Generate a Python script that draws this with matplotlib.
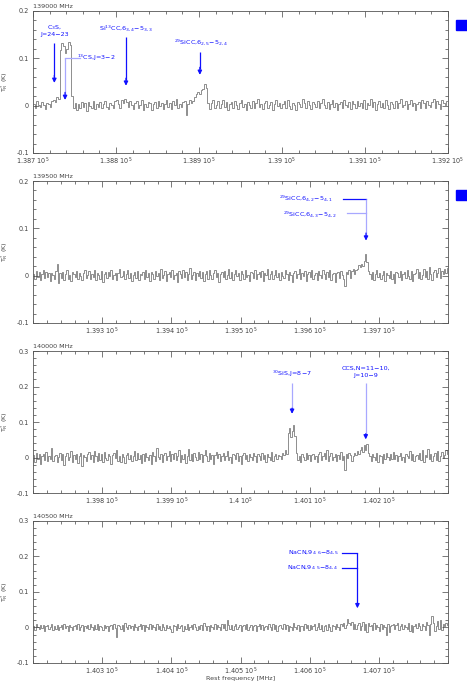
import numpy as np
import matplotlib
matplotlib.use('Agg')
import matplotlib.pyplot as plt
from matplotlib.patches import Rectangle

#########################################################
# Data (antenna temperature in mK, 2 MHz channels)

CHANNEL_WIDTH = 2.0

start_1 = 138700
spec_1 = [4, -6, 9, 1, -3, 7, 2, -8, 6, 3, -2, 10, 12, 8, 18, 14, 118, 132, 126, 112,
          120, 134, 128, 20, -4, 6, -9, 3, -6, 8, -2, 5, -11, 7, 0, -5, 9, -7, 4, -3,
          8, -6, 3, 10, -2, -8, 5, 1, -4, 9, 11, 3, -6, 12, 5, 14, 8, -3, 10, 2,
          -7, 6, 9, -4, 2, 11, -9, 4, -2, 8, 6, -10, 3, 7, -5, 10, -1, 5, -8, 3,
          12, -3, 6, -7, 9, 1, 13, -5, 4, -2, 8, 10, -20, 3, 12, 6, 9, 18, 25, 28,
          24, 32, 36, 45, 38, 5, -8, 6, 11, -4, 2, 9, -6, 4, 12, -2, 7, -9, 3, 8,
          -5, 10, 1, -7, 6, 11, -3, 4, -10, 7, 2, -4, 9, -6, 5, 13, -2, 3, -8, 6,
          10, -5, 2, 8, -9, 4, 12, -1, 6, -6, 3, 9, -4, 11, 0, -7, 5, 2, -10, 8,
          4, -3, 13, 6, -5, 9, 1, -8, 7, 3, -2, 10, -6, 5, 14, 2, -4, 8, -7, 3,
          11, -2, 6, -9, 4, 8, -5, 12, 1, -3, 7, -8, 10, 3, -6, 9, 0, 5, -4, 11,
          -7, 6, 2, 13, -3, 8, -10, 4, 9, -2, 5, -6, 12, 1, -8, 7, 3, -4, 10, -5,
          6, 14, -3, 2, 9, -7, 4, 11, -1, 6, -9, 3, 8, -4, 12, 5, -6, 9, 2, -3,
          7, 15, -5, 10, 3, -8, 12, 6, 1, 9]

start_2 = 139200
spec_2 = [3, -6, 10, -2, 7, -9, 4, 12, -5, 8, -3, 6, -11, 5, 1, -7, 9, 24, -16, 6,
          -4, 8, -9, 3, 11, -6, 2, -12, 7, 4, -3, 10, -8, 5, 0, -10, 6, 13, -5, 2,
          9, -7, 4, -2, 12, -9, 5, 1, -6, 10, -13, 3, 7, -4, 8, -1, 11, -8, 2, 6,
          -10, 5, 14, -3, 0, 9, -7, 3, 12, -5, 6, -11, 2, 8, -4, 10, -9, 4, 1, 7,
          -6, 13, -2, 5, -12, 8, 3, -7, 10, -1, 6, -9, 15, -4, 2, 9, -11, 4, 7, -3,
          11, -8, 1, 6, -13, 9, 4, -5, 12, -2, 7, -10, 3, 16, -6, 2, 8, -9, 5, 0,
          10, -4, 7, -12, 3, 9, -6, 13, 1, -8, 5, 11, -3, 6, -14, 4, 8, -2, 10, -7,
          2, 14, -5, 7, -10, 3, 12, -1, 6, -9, 9, 4, -6, 11, -3, 1, -12, 8, 5, -4,
          13, -7, 3, 8, -2, 10, -11, 5, 1, 15, -6, 4, 9, -8, 2, 12, -3, 6, -10, 7,
          0, -5, 11, 4, -9, 8, 2, -13, 6, 10, -4, 3, 14, -7, 5, -1, 9, -12, 4, 7,
          -3, 12, -8, 2, 6, -10, 9, 1, -5, 13, 3, -7, 8, -2, 11, -9, 4, 6, -14, 5,
          8, -4, 10, 2, -6, -22, 7, 3, 12, -5, 9, 15, 4, 11, 15, 22, 18, 25, 20, 30,
          46, 28, 10, 3, -6, 8, -10, 4, 11, -3, 6, -8, 2, 9, -12, 5, 1, -4, 10, -7,
          3, -16, 8, 5, -2, 10, -9, 4, 7, -5, 12, 0, -6, 9, -11, 3, 6, 14, -4, 8,
          -8, 2, 15, -3, 9, -6, 18, 4, -10, 7, 12, -2, 5, 16, -5, 9, 3, 14, 6, 17]

start_3 = 139700
spec_3 = [6, -12, 14, -4, 9, -17, 3, 11, -7, 16, -10, 5, -3, 28, -9, 4, 8, -14, 2, 12,
          -6, 9, -22, 5, 13, -8, 1, 17, -12, 6, -3, 10, -16, 4, 14, -25, 7, 2, -9, 11,
          15, -4, 8, -13, 19, 3, -10, 12, -6, 9, -14, 16, 0, -7, 11, 4, -18, 7, 13, -2,
          21, -9, 5, -12, 10, 2, -15, 8, 14, -5, 7, -10, 3, 18, -8, 12, -3, 6, -16, 9,
          -11, 13, 1, -6, 8, -17, 15, 4, -9, 27, 2, -5, 10, -13, 6, 12, -7, 3, 17, -10,
          9, -4, 14, -8, 5, 20, -12, 7, -3, 11, -15, 4, 24, -6, 9, -10, 13, 2, -8, 16,
          -5, 10, -14, 7, 21, 3, -9, 12, -4, 8, -18, 6, 15, -2, 9, -11, 4, 13, -7, 5,
          17, -6, 2, -15, 11, 7, -4, 12, -9, 3, -19, 8, 14, -3, 6, -10, 10, 1, -6, 13,
          5, -12, 9, 4, -8, 14, -3, 7, -14, 11, 2, -6, 16, -9, 5, 10, -4, 8, 3, -5,
          12, 6, 22, 10, 70, 82, 58, 75, 93, 60, 12, -8, 4, -12, 9, 2, -6, 14, -3, 8,
          -10, 6, 11, -5, 3, -14, 9, 16, -7, 4, 12, -3, 20, -9, 5, 13, -6, 2, 10, -11,
          7, -4, 15, -8, 3, -35, 9, -2, 12, 6, -10, 4, 14, 8, 19, 11, 20, 30, 15, 36,
          22, 38, 12, 4, -9, 11, 2, -6, 14, -12, 7, 3, -15, 9, -4, 13, 1, -8, 10, -5,
          16, -3, 8, -11, 5, 12, -7, 2, -13, 9, 4, -2, 18, -6, 11, -9, 3, 7, -4, 14,
          -8, 22, -12, 6, 2, 25, -3, 10, -11, 5, 13, -6, 19, -9, 4, 16, -2, 8, 21, 10]

start_4 = 140200
spec_4 = [5, -7, 9, 1, -4, 8, -2, 6, -9, 3, 7, -5, 2, 10, -6, 4, -3, 8, -8, 1,
          6, -4, 9, -2, 3, -10, 7, 0, -6, 5, 8, -3, 10, -7, 2, 6, -9, 4, -1, 7,
          -5, 9, 2, -8, 6, -3, 11, -6, 4, 1, -7, 8, -2, 5, -10, 3, 7, -4, 9, -1,
          -26, 6, 3, -5, 8, -9, 12, 1, -4, 7, -2, 5, -8, 9, 0, -6, 4, 10, -3, 6,
          -9, 8, 2, -5, 11, -4, 6, 1, -7, 9, -3, 4, -6, 10, 2, -8, 7, -1, 5, -4,
          -12, 6, 3, -7, 9, -2, 5, 8, -9, 4, -3, 10, -6, 2, 7, -5, 9, 0, -8, 5,
          -4, 8, -7, 12, 3, -6, 5, -9, 7, 1, -3, 10, -5, 6, 2, -8, 9, -2, 11, -6,
          20, 6, -4, 8, -8, 3, 10, -5, 2, 7, -9, 4, 6, -3, 9, -7, 1, 8, -6, 4,
          6, -9, 3, 11, -4, 7, -7, 2, 5, -5, 9, 1, -8, 10, -3, 6, -10, 4, 8, -2,
          -5, 9, -3, 6, -11, 4, 1, -7, 12, 2, -4, 8, -9, 5, 3, -6, 10, -2, 7, -8,
          8, -3, 5, 10, -7, 2, 13, -4, 6, -9, 4, 7, -6, 11, 1, -10, 8, 3, -5, 9,
          2, -7, 10, 4, 14, -2, 8, 24, 12, 6, 16, -5, 10, -3, 7, 12, -8, 5, 15, -6,
          9, -12, 14, 3, 8, -7, 13, -4, 6, 2, -9, 11, -5, 7, 0, -20, 9, -13, 4, 8,
          10, -4, 6, 14, -8, 3, 11, -5, 7, 1, -3, 12, -9, 6, -14, 5, 9, -2, 13, 4,
          -6, 10, 3, -8, 16, 6, -22, 9, 32, 12, -10, 5, 18, -4, 20, -7, 11, 3, 14, 8]

headers = ['139000 MHz', '139500 MHz', '140000 MHz', '140500 MHz']
x_ranges = [(138700, 139200), (139200, 139800), (139700, 140300), (140200, 140800)]
x_ticks = [[138700, 138800, 138900, 139000, 139100, 139200],
           [139300, 139400, 139500, 139600, 139700],
           [139800, 139900, 140000, 140100, 140200],
           [140300, 140400, 140500, 140600, 140700]]
y_ranges = [(-0.1, 0.2), (-0.1, 0.2), (-0.1, 0.3), (-0.1, 0.3)]

# simple arrows: (x, y_top, y_tip, shaft colour)
arrows_1 = [(138725.7, 0.132, 0.048, 'dark'), (138812, 0.146, 0.042, 'dark'),
            (138901, 0.113, 0.065, 'dark')]
arrows_3 = [(140074.5, 0.209, 0.123, 'light'), (140181, 0.209, 0.051, 'light')]

BLUE = '#1010ff'
LIGHT_BLUE = '#a8a8ff'
SPEC_COLOR = '#707070'
FS = 4.6
TICK_FS = 4.7
TEXT_COLOR = '#444444'

#########################################################
# Helper Functions

def tick_label(v):
    return '%g 10$^5$' % (v / 1e5)

def draw_spectrum(ax, start, spec, idx):
    values = np.array(spec) / 1000.0
    edges = start + CHANNEL_WIDTH * np.arange(len(values) + 1)
    ax.stairs(values, edges, color=SPEC_COLOR, lw=0.55, baseline=None)
    ax.set_xlim(*x_ranges[idx])
    ax.set_ylim(*y_ranges[idx])
    ax.set_xticks(x_ticks[idx])
    ax.set_xticklabels([tick_label(v) for v in x_ticks[idx]])
    ymin, ymax = y_ranges[idx]
    yt = np.round(np.arange(ymin, ymax + 0.001, 0.1), 2)
    ax.set_yticks(yt)
    ax.set_yticklabels(['%g' % v if v != 0 else '0' for v in yt])
    ax.set_xticks(np.arange(x_ranges[idx][0], x_ranges[idx][1] + 1, 20), minor=True)
    ax.set_yticks(np.round(np.arange(ymin, ymax + 0.001, 0.02), 3), minor=True)
    ax.tick_params(which='both', direction='in', top=True, right=True,
                   labelsize=TICK_FS, colors=TEXT_COLOR, width=0.5)
    ax.tick_params(which='major', length=4)
    ax.tick_params(axis='x', which='major', pad=2)
    ax.tick_params(axis='y', which='major', pad=3)
    ax.tick_params(which='minor', length=2.5)
    for s in ax.spines.values():
        s.set_linewidth(0.6)
        s.set_color('#555555')
    ax.set_ylabel('$\\mathrm{T}_\\mathrm{R}^*$ (K)', fontsize=FS, color=TEXT_COLOR)
    ax.yaxis.set_label_coords(-0.055, 0.5)
    ax.text(0.0, 1.015, headers[idx], transform=ax.transAxes, fontsize=FS,
            color=TEXT_COLOR, va='bottom', ha='left')

def draw_arrow(ax, x, y0, y1, shaft=BLUE):
    ax.plot([x, x], [y0, y1 + 0.012], color=shaft, lw=0.9, solid_capstyle='butt')
    ax.annotate('', xy=(x, y1), xytext=(x, y1 + 0.016),
                arrowprops=dict(arrowstyle='-|>', color=BLUE, lw=0.9,
                                mutation_scale=6, shrinkA=0, shrinkB=0))

def draw_connector(ax, x0, x1, y, color):
    ax.plot([x0, x1], [y, y], color=color, lw=0.9)

#########################################################
# Figure

fig = plt.figure(figsize=(4.67, 6.82), dpi=100)
bottoms = [0.7757, 0.5264, 0.2771, 0.0279]
axes = []
for i in range(4):
    axes.append(fig.add_axes([0.0707, bottoms[i], 0.8887, 0.2082]))

draw_spectrum(axes[0], start_1, spec_1, 0)
draw_spectrum(axes[1], start_2, spec_2, 1)
draw_spectrum(axes[2], start_3, spec_3, 2)
draw_spectrum(axes[3], start_4, spec_4, 3)

# Panel 1 annotations
ax = axes[0]
ax.text(138725.7, 0.165, 'C$_3$S,', color=BLUE, fontsize=FS, ha='center', va='center')
ax.text(138725.7, 0.151, 'J=24−23', color=BLUE, fontsize=FS, ha='center', va='center')
ax.text(138812, 0.163, 'Si$^{13}$CC,6$_{3,4}$−5$_{3,3}$', color=BLUE, fontsize=FS,
        ha='center', va='center')
ax.text(138902, 0.133, '$^{29}$SiCC,6$_{2,5}$−5$_{2,4}$', color=BLUE, fontsize=FS,
        ha='center', va='center')
ax.text(138753, 0.101, '$^{13}$CS,J=3−2', color=BLUE, fontsize=FS, ha='left', va='center')
draw_connector(ax, 138738.6, 138757, 0.100, LIGHT_BLUE)
draw_arrow(ax, 138738.6, 0.100, 0.012, LIGHT_BLUE)
for x, y0, y1, c in arrows_1:
    draw_arrow(ax, x, y0, y1, BLUE if c == 'dark' else LIGHT_BLUE)

# Panel 2 annotations
ax = axes[1]
ax.text(139633.7, 0.163, '$^{29}$SiCC,6$_{4,2}$−5$_{4,1}$', color=BLUE, fontsize=FS,
        ha='right', va='center')
ax.text(139639.5, 0.130, '$^{29}$SiCC,6$_{4,3}$−5$_{4,2}$', color=BLUE, fontsize=FS,
        ha='right', va='center')
draw_connector(ax, 139648, 139681.4, 0.161, BLUE)
draw_connector(ax, 139654, 139681.4, 0.132, LIGHT_BLUE)
draw_arrow(ax, 139681.4, 0.161, 0.074, LIGHT_BLUE)

# Panel 3 annotations
ax = axes[2]
ax.text(140074.5, 0.237, '$^{30}$SiS,J=8−7', color=BLUE, fontsize=FS, ha='center', va='center')
ax.text(140181, 0.251, 'CCS,N=11−10,', color=BLUE, fontsize=FS, ha='center', va='center')
ax.text(140181, 0.232, 'J=10−9', color=BLUE, fontsize=FS, ha='center', va='center')
for x, y0, y1, c in arrows_3:
    draw_arrow(ax, x, y0, y1, BLUE if c == 'dark' else LIGHT_BLUE)

# Panel 4 annotations
ax = axes[3]
ax.text(140642, 0.209, 'NaCN,9$_{4,6}$−8$_{4,5}$', color=BLUE, fontsize=FS,
        ha='right', va='center')
ax.text(140642, 0.167, 'NaCN,9$_{4,5}$−8$_{4,4}$', color=BLUE, fontsize=FS,
        ha='right', va='center')
draw_connector(ax, 140646, 140669, 0.209, BLUE)
draw_connector(ax, 140646, 140669, 0.167, BLUE)
draw_arrow(ax, 140669, 0.209, 0.054, BLUE)
fig.text(0.515, 1 - 678.5 / 682, 'Rest frequency [MHz]', fontsize=FS,
         color=TEXT_COLOR, ha='center', va='center')

# blue markers on the right
fig.patches.append(Rectangle((456 / 467, 1 - 30 / 682), 11 / 467, 10 / 682,
                             transform=fig.transFigure, color='#0000ff'))
fig.patches.append(Rectangle((456 / 467, 1 - 200 / 682), 11 / 467, 10 / 682,
                             transform=fig.transFigure, color='#0000ff'))

plt.savefig('out.png', dpi=100)
plt.close()
